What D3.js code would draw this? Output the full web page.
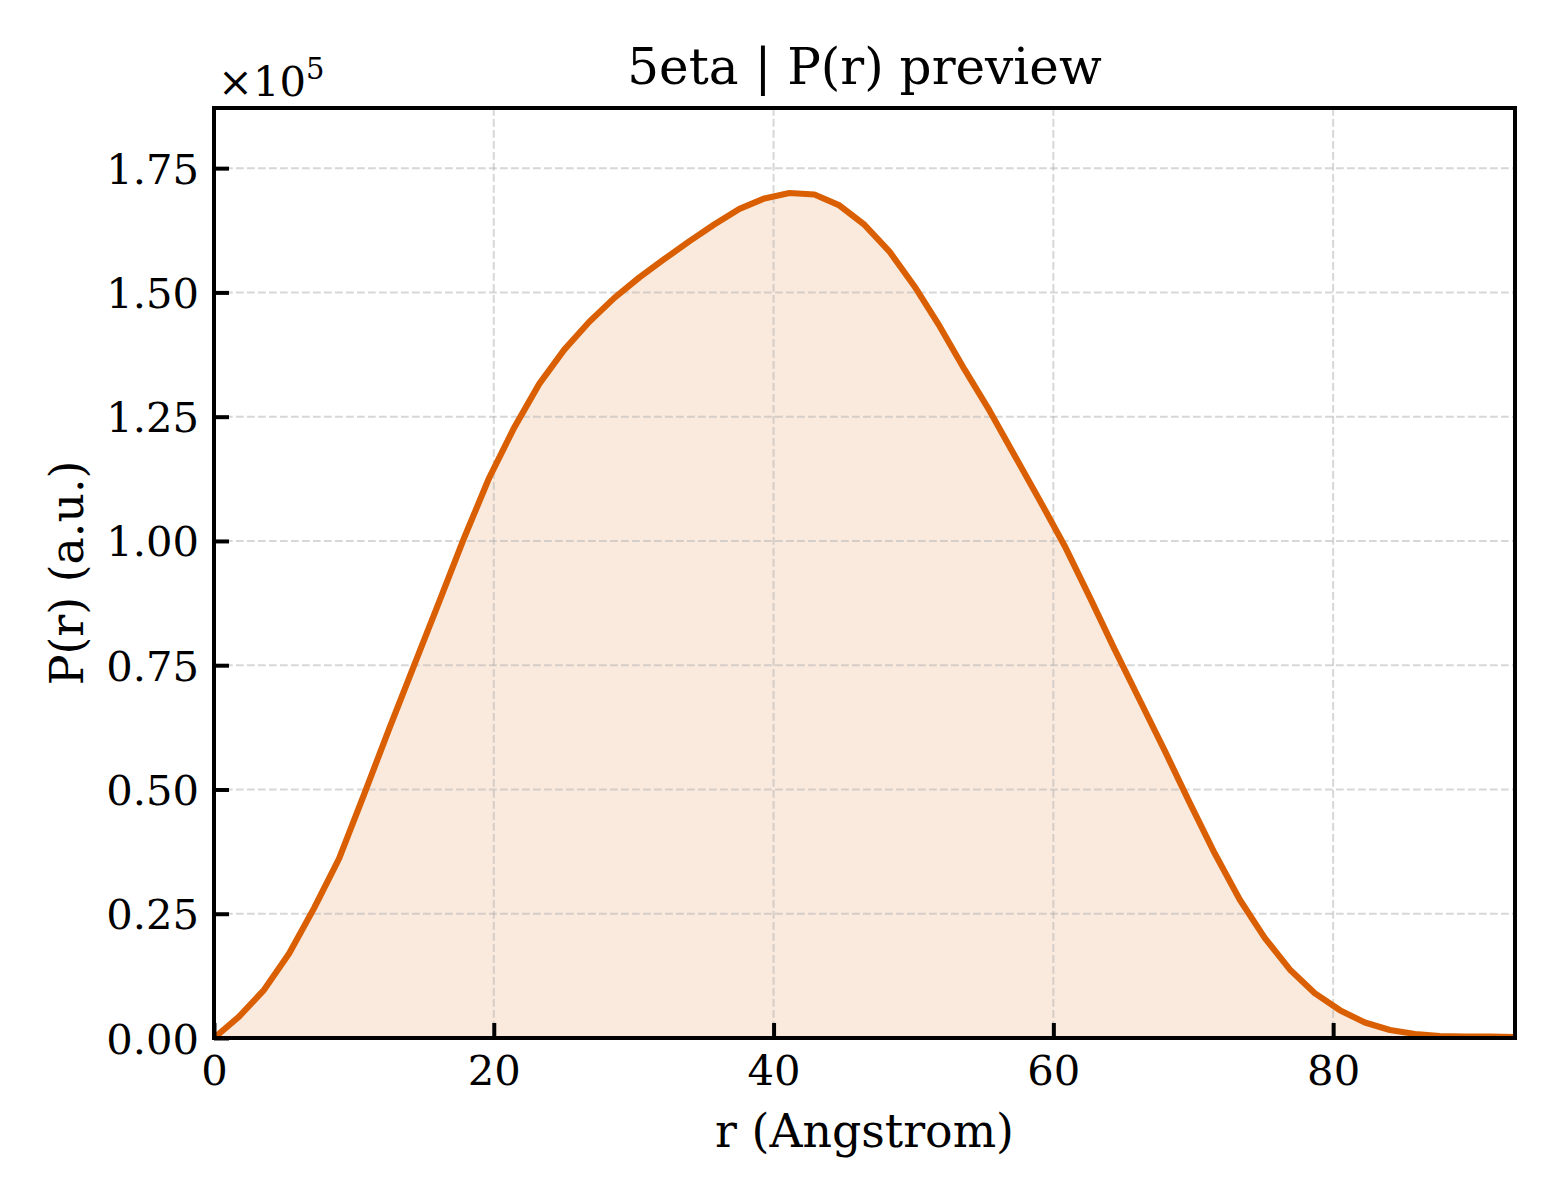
<!DOCTYPE html>
<html>
<head>
<meta charset="utf-8">
<script src="https://cdn.jsdelivr.net/npm/d3@7"></script>
<style>
  body { margin: 0; background: #fff; }
  svg { display: block; font-family: "DejaVu Serif", serif; }
</style>
</head>
<body>
<svg id="chart" width="1560" height="1200"></svg>
<script>
// distance axis, Angstrom
var rValues = [0, 1.79, 3.58, 5.37, 7.15, 8.94, 10.73, 12.52, 14.31, 16.10,
  17.88, 19.67, 21.46, 23.25, 25.04, 26.83, 28.62, 30.40, 32.19, 33.98,
  35.77, 37.56, 39.35, 41.13, 42.92, 44.71, 46.50, 48.29, 50.08, 51.87,
  53.65, 55.44, 57.23, 59.02, 60.81, 62.60, 64.38, 66.17, 67.96, 69.75,
  71.54, 73.33, 75.12, 76.90, 78.69, 80.48, 82.27, 84.06, 85.85, 87.63,
  89.42, 91.21, 93.00];

// P(r) in units of 1e5
var prValues = [0.000, 0.043, 0.097, 0.170, 0.261, 0.361, 0.490, 0.622, 0.750, 0.878,
  1.006, 1.127, 1.228, 1.316, 1.385, 1.441, 1.489, 1.530, 1.567, 1.603,
  1.637, 1.668, 1.689, 1.700, 1.697, 1.675, 1.636, 1.582, 1.512, 1.432,
  1.345, 1.262, 1.172, 1.082, 0.990, 0.887, 0.782, 0.680, 0.578, 0.473,
  0.371, 0.278, 0.201, 0.138, 0.090, 0.056, 0.031, 0.016, 0.008, 0.004,
  0.003, 0.003, 0.002];

var xTicks = [0, 20, 40, 60, 80];
var yTicks = [0, 0.25, 0.5, 0.75, 1.0, 1.25, 1.5, 1.75];

var lineColor = "#d95f02";

var svg = d3.select("#chart");
var margins = {left: 214, right: 45, top: 108, bottom: 162};
var w = 1560 - margins.left - margins.right;
var h = 1200 - margins.top - margins.bottom;

var data = rValues.map(function(r, i) { return {r: r, p: prValues[i]}; });

var xScale = d3.scaleLinear().domain([0, 93]).range([0, w]);
var yScale = d3.scaleLinear().domain([0, 1.871]).range([h, 0]);

var g = svg.append("g")
  .attr("transform", "translate(" + margins.left + "," + margins.top + ")");

g.append("clipPath").attr("id", "clip")
  .append("rect").attr("width", w).attr("height", h);

var area = d3.area()
  .x(function(d) { return xScale(d.r); })
  .y0(yScale(0))
  .y1(function(d) { return yScale(d.p); });

var line = d3.line()
  .x(function(d) { return xScale(d.r); })
  .y(function(d) { return yScale(d.p); });

g.append("path")
  .datum(data)
  .attr("d", area)
  .attr("fill", lineColor)
  .attr("fill-opacity", 0.13)
  .attr("clip-path", "url(#clip)");

// grid
var grid = g.append("g").attr("class", "grid")
  .attr("stroke", "#b0b0b0")
  .attr("stroke-opacity", 0.5)
  .attr("stroke-width", 2)
  .attr("stroke-dasharray", "7.7,3.3");

grid.selectAll("line.gx").data(xTicks).enter().append("line")
  .attr("x1", function(d) { return xScale(d); })
  .attr("x2", function(d) { return xScale(d); })
  .attr("y1", 0).attr("y2", h);

grid.selectAll("line.gy").data(yTicks).enter().append("line")
  .attr("y1", function(d) { return yScale(d); })
  .attr("y2", function(d) { return yScale(d); })
  .attr("x1", 0).attr("x2", w);

g.append("path")
  .datum(data)
  .attr("d", line)
  .attr("fill", "none")
  .attr("stroke", lineColor)
  .attr("stroke-width", 6.2)
  .attr("stroke-linejoin", "round")
  .attr("clip-path", "url(#clip)");

// axes, ticks pointing inward
var xAxis = d3.axisBottom(xScale)
  .tickValues(xTicks)
  .tickSize(-15)
  .tickPadding(15)
  .tickFormat(d3.format("d"));

var yAxis = d3.axisLeft(yScale)
  .tickValues(yTicks)
  .tickSize(-15)
  .tickPadding(15)
  .tickFormat(d3.format(".2f"));

var xg = g.append("g")
  .attr("transform", "translate(0," + h + ")")
  .call(xAxis);
var yg = g.append("g").call(yAxis);

[xg, yg].forEach(function(ax) {
  ax.select(".domain").remove();
  ax.selectAll(".tick line").attr("stroke", "#000").attr("stroke-width", 4);
  ax.selectAll(".tick text")
    .attr("fill", "#000")
    .style("font-family", "'DejaVu Serif', serif")
    .style("font-size", "41.7px");
});
xg.selectAll(".tick text").attr("dy", "0.76em");
yg.selectAll(".tick text").attr("dy", "0.36em");

// frame
g.append("rect")
  .attr("width", w).attr("height", h)
  .attr("fill", "none")
  .attr("stroke", "#000")
  .attr("stroke-width", 4);

// texts
svg.append("text")
  .attr("x", margins.left + w / 2)
  .attr("y", 84)
  .attr("text-anchor", "middle")
  .style("font-size", "50px")
  .text("5eta | P(r) preview");

svg.append("text")
  .attr("x", margins.left + w / 2)
  .attr("y", 1147)
  .attr("text-anchor", "middle")
  .style("font-size", "45.8px")
  .text("r (Angstrom)");

svg.append("text")
  .attr("transform", "translate(83," + (margins.top + h / 2) + ") rotate(-90)")
  .attr("text-anchor", "middle")
  .style("font-size", "45.8px")
  .text("P(r) (a.u.)");

var offset = svg.append("text")
  .attr("x", 218)
  .attr("y", 96)
  .style("font-size", "41.7px");
offset.append("tspan").text("\u00d710");
offset.append("tspan")
  .attr("dy", -17)
  .style("font-size", "29px")
  .text("5");
</script>
</body>
</html>
